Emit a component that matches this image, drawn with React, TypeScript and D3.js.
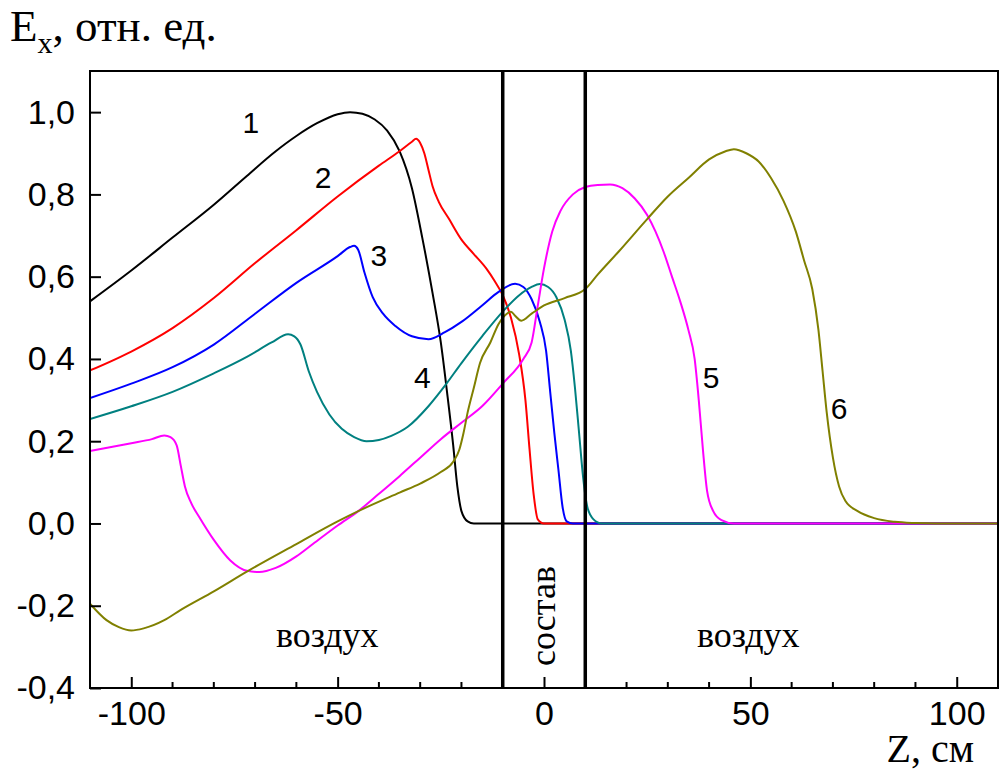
import React, { useEffect, useRef } from 'react';
import * as d3 from 'd3';

// z positions (cm) and Ex values for each curve
const z1 = [-110, -100, -90, -80, -72, -65, -60, -55, -50, -47, -44, -41, -38, -35, -32, -29.5, -27, -25, -23.5, -22, -21, -20, -18.5, -17, 110];
const e1 = [0.54, 0.615, 0.695, 0.775, 0.845, 0.905, 0.942, 0.973, 0.995, 1.0, 0.996, 0.982, 0.955, 0.905, 0.815, 0.695, 0.56, 0.44, 0.32, 0.19, 0.09, 0.03, 0.005, 0, 0];

const z2 = [-110, -100, -90, -80, -70, -60, -50, -40, -35, -32, -31, -30, -29, -28, -27, -25.5, -23, -20, -17, -14, -12, -10, -8, -6, -4.5, -3.5, -2.5, -1.5, 0, 110];
const e2 = [0.372, 0.418, 0.475, 0.548, 0.633, 0.713, 0.795, 0.87, 0.905, 0.928, 0.935, 0.925, 0.9, 0.86, 0.82, 0.782, 0.74, 0.69, 0.655, 0.62, 0.59, 0.555, 0.5, 0.41, 0.3, 0.18, 0.07, 0.01, 0, 0];

const z3 = [-110, -100, -90, -80, -70, -60, -50, -47, -46, -45, -43.5, -41.5, -39, -36, -32, -28, -24, -20, -15, -11, -7, -5, -3, -1, 0.5, 1.5, 2.5, 3.5, 4.5, 5.5, 7, 110];
const e3 = [0.305, 0.34, 0.38, 0.435, 0.51, 0.585, 0.65, 0.672, 0.675, 0.665, 0.61, 0.55, 0.51, 0.48, 0.455, 0.448, 0.465, 0.49, 0.53, 0.563, 0.583, 0.575, 0.545, 0.49, 0.42, 0.32, 0.22, 0.13, 0.04, 0.005, 0, 0];

const z4 = [-110, -100, -90, -80, -72, -66, -62, -60.5, -59, -57, -55, -52, -49, -46, -43, -40, -37, -33, -28, -24, -20, -15, -10, -6, -3, -1, 1, 3, 5, 6.5, 7.5, 8.5, 9.5, 10.5, 12, 14, 110];
const e4 = [0.254, 0.285, 0.32, 0.365, 0.405, 0.44, 0.46, 0.455, 0.435, 0.37, 0.32, 0.265, 0.23, 0.21, 0.2, 0.203, 0.213, 0.235, 0.285, 0.335, 0.39, 0.455, 0.515, 0.555, 0.575, 0.582, 0.575, 0.55, 0.495, 0.42, 0.33, 0.22, 0.11, 0.04, 0.01, 0, 0];

const z5 = [-110, -100, -95, -92, -90.5, -89, -88, -87, -85.5, -83.5, -80, -76, -72, -69, -65, -60, -56, -50, -45, -40, -35, -30, -25, -20, -15, -10, -5, -3, -1.5, 0, 2, 4, 7, 10, 13, 16, 19, 22, 25, 27, 29, 31, 33, 35, 36.5, 37.5, 38.5, 39.5, 41, 43, 46, 110];
const e5 = [0.176, 0.195, 0.205, 0.214, 0.21, 0.19, 0.14, 0.09, 0.05, 0.015, -0.04, -0.09, -0.115, -0.118, -0.108, -0.08, -0.05, -0.005, 0.03, 0.072, 0.115, 0.16, 0.205, 0.245, 0.285, 0.34, 0.4, 0.44, 0.53, 0.62, 0.71, 0.76, 0.8, 0.818, 0.823, 0.824, 0.815, 0.79, 0.75, 0.71, 0.66, 0.6, 0.54, 0.47, 0.4, 0.3, 0.18, 0.08, 0.03, 0.008, 0, 0];

const z6 = [-110, -106, -103, -100, -97, -92, -88, -80, -72, -60, -50, -45, -35, -30, -25, -22, -20.5, -19.5, -18.5, -17, -15.5, -13, -11, -9, -8, -7, -5.5, -3, 0, 5, 10, 13, 18, 25, 30, 35, 40, 44, 46, 49, 52, 55, 58, 61, 63, 65, 66.5, 67.5, 68.5, 70, 71.5, 73, 76, 80, 85, 90, 95, 110];
const e6 = [-0.195, -0.235, -0.252, -0.26, -0.255, -0.235, -0.21, -0.165, -0.117, -0.05, 0.005, 0.03, 0.075, 0.097, 0.125, 0.15, 0.18, 0.22, 0.27, 0.33, 0.39, 0.44, 0.485, 0.51, 0.515, 0.505, 0.493, 0.51, 0.53, 0.548, 0.57, 0.605, 0.66, 0.74, 0.795, 0.84, 0.885, 0.905, 0.91, 0.9, 0.88, 0.84, 0.785, 0.71, 0.64, 0.57, 0.47, 0.37, 0.27, 0.16, 0.09, 0.055, 0.03, 0.013, 0.004, 0.001, 0, 0];

const curveColors = ['#000000', '#ff0000', '#0000ff', '#008080', '#ff00ff', '#808000'];
const curveNames = ['1', '2', '3', '4', '5', '6'];
// where the curve numbers sit (z, Ex)
const labelZ = [-71, -53.5, -40, -29.5, 40.5, 71.5];
const labelE = [0.95, 0.815, 0.625, 0.33, 0.33, 0.255];

const yTicks = [-0.4, -0.2, 0.0, 0.2, 0.4, 0.6, 0.8, 1.0];
const xMajor = [-100, -50, 0, 50, 100];
const xMinor = [-110, -90, -80, -70, -60, -40, -30, -20, -10, 10, 20, 30, 40, 60, 70, 80, 90, 110];
const walls = [-10, 10];

const App = () => {
  const svgRef = useRef();

  useEffect(() => {
    const margin = { top: 71, right: 2, bottom: 84, left: 90 };
    const width = 1000 - margin.left - margin.right;
    const height = 772 - margin.top - margin.bottom;

    const root = d3.select(svgRef.current);
    root.selectAll('*').remove();
    const svg = root.append('g')
      .attr('transform', `translate(${margin.left},${margin.top})`);

    const xScale = d3.scaleLinear().domain([-110, 110]).range([0, width]);
    const yScale = d3.scaleLinear().domain([-0.4, 1.1]).range([height, 0]);

    const series = [
      [z1, e1], [z2, e2], [z3, e3], [z4, e4], [z5, e5], [z6, e6]
    ];

    const line = d3.line()
      .x(d => xScale(d[0]))
      .y(d => yScale(d[1]))
      .curve(d3.curveMonotoneX);

    svg.append('defs').append('clipPath').attr('id', 'plotClip')
      .append('rect').attr('width', width).attr('height', height);

    const plot = svg.append('g').attr('clip-path', 'url(#plotClip)');

    series.forEach(([zs, es], i) => {
      plot.append('path')
        .datum(zs.map((z, k) => [z, es[k]]))
        .attr('fill', 'none')
        .attr('stroke', curveColors[i])
        .attr('stroke-width', 2)
        .attr('stroke-linejoin', 'round')
        .attr('d', line);
    });

    // boundaries of the slab
    walls.forEach(w => {
      svg.append('line')
        .attr('x1', xScale(w)).attr('x2', xScale(w))
        .attr('y1', 0).attr('y2', height)
        .attr('stroke', '#000')
        .attr('stroke-width', 3.5);
    });

    // frame
    svg.append('rect')
      .attr('width', width).attr('height', height)
      .attr('fill', 'none')
      .attr('stroke', '#000')
      .attr('stroke-width', 2);

    const sans = 'Liberation Sans, Arial, sans-serif';
    const serif = 'Liberation Serif, Times New Roman, serif';

    // y axis, ticks pointing inward
    const yAxis = svg.append('g')
      .call(d3.axisLeft(yScale)
        .tickValues(yTicks)
        .tickSize(-11)
        .tickPadding(15)
        .tickFormat(v => v.toFixed(1).replace('.', ',')));
    yAxis.select('.domain').remove();
    yAxis.selectAll('line').attr('stroke-width', 2);
    yAxis.selectAll('text')
      .attr('font-family', sans)
      .attr('font-size', 34)
      .attr('fill', '#000');

    // x axis: major and minor ticks
    const xAxis = svg.append('g')
      .attr('transform', `translate(0,${height})`)
      .call(d3.axisBottom(xScale)
        .tickValues(xMajor)
        .tickSize(-11)
        .tickPadding(13)
        .tickFormat(v => String(v)));
    xAxis.select('.domain').remove();
    xAxis.selectAll('line').attr('stroke-width', 2);
    xAxis.selectAll('text')
      .attr('font-family', sans)
      .attr('font-size', 34)
      .attr('fill', '#000');

    svg.append('g')
      .selectAll('line')
      .data(xMinor)
      .enter().append('line')
      .attr('x1', d => xScale(d)).attr('x2', d => xScale(d))
      .attr('y1', height).attr('y2', height - 6)
      .attr('stroke', '#000')
      .attr('stroke-width', 2);

    // curve numbers
    svg.append('g')
      .selectAll('text')
      .data(curveNames)
      .enter().append('text')
      .attr('x', (d, i) => xScale(labelZ[i]))
      .attr('y', (d, i) => yScale(labelE[i]))
      .attr('text-anchor', 'middle')
      .attr('font-family', sans)
      .attr('font-size', 30)
      .text(d => d);

    // region labels
    [[-52.5, 'воздух'], [49.5, 'воздух']].forEach(([z, t]) => {
      svg.append('text')
        .attr('x', xScale(z))
        .attr('y', yScale(-0.3))
        .attr('text-anchor', 'middle')
        .attr('font-family', serif)
        .attr('font-size', 36)
        .text(t);
    });
    svg.append('text')
      .attr('transform', `translate(${xScale(0) + 11},${yScale(-0.225)}) rotate(-90)`)
      .attr('text-anchor', 'middle')
      .attr('font-family', serif)
      .attr('font-size', 36)
      .text('состав');

    // axis titles
    const yTitle = root.append('text')
      .attr('x', 10)
      .attr('y', 41)
      .attr('font-family', serif)
      .attr('font-size', 45);
    yTitle.append('tspan').text('E');
    yTitle.append('tspan').attr('font-size', 30).attr('dy', 12).text('x');
    yTitle.append('tspan').attr('dy', -12).text(', отн. ед.');

    root.append('text')
      .attr('x', 974)
      .attr('y', 762)
      .attr('text-anchor', 'end')
      .attr('font-family', serif)
      .attr('font-size', 40)
      .text('Z, см');
  }, []);

  return (
    <div>
      <svg ref={svgRef} width={1000} height={772}
        style={{ position: 'absolute', left: 0, top: 0, background: '#fff' }}></svg>
    </div>
  );
};

export default App;
